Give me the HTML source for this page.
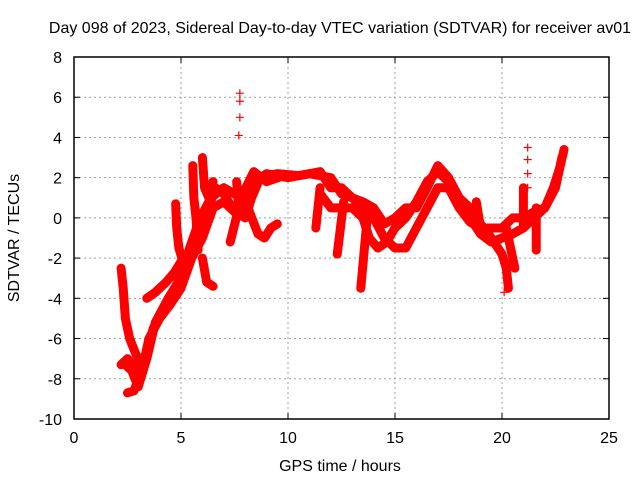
<!DOCTYPE html>
<html><head><meta charset="utf-8"><style>
body{margin:0;background:#fff}
svg{display:block;font-family:"Liberation Sans",sans-serif}
</style></head><body>
<svg id="c" width="640" height="480">
<text x="340" y="33" text-anchor="middle" font-size="16">Day 098 of 2023, Sidereal Day-to-day VTEC variation (SDTVAR) for receiver av01</text>
<text x="340" y="471" text-anchor="middle" font-size="16">GPS time / hours</text>
<text transform="translate(19,238) rotate(-90)" text-anchor="middle" font-size="16">SDTVAR / TECUs</text>
<g id="grid"></g><g id="marks"></g><g id="axes"></g>
</svg>
<script>
const xTicks=[0,5,10,15,20,25];
const yTicks=[-10,-8,-6,-4,-2,0,2,4,6,8];
const trackMain=[[2.5,-8.7],[2.8,-8.6],[3.2,-7.5],[3.5,-6],[4,-5],[4.5,-4.3],[5,-3.5],[5.5,-2],[6,-1],[6.5,0.5],[7,0.8],[7.5,0.3],[8,0.5],[8.5,1.8],[9,2.2],[10,2],[11,2.2],[12,2],[12.5,1.2],[13,1],[14,0],[14.5,-1],[15,-1.5],[15.5,-1.5],[16,-0.5],[16.5,0.5],[17,1.5],[17.5,1.5],[18,0.5],[18.5,-0.2],[19,-0.5],[19.5,-0.5],[20,-0.5],[20.5,0],[21,0],[21.5,0.3],[22,0.5],[22.5,1.5],[22.8,3]];
const trackSecond=[[3,-8],[3.3,-7],[3.7,-5.5],[4.2,-4.5],[4.7,-3.5],[5.2,-2.5],[5.6,-1.5],[6,-0.5],[6.3,0.5],[6.6,1.5],[7,1.2],[7.5,0.3],[8,0],[8.3,1],[8.7,2],[9.5,2.2],[10.5,2.1],[11.5,2.3],[12,1.5],[12.5,1.5],[13,1],[13.5,0.8],[14,0.5],[14.5,-0.3],[15,0],[15.5,0.5],[16,0.5],[16.5,1.5],[17,2.6],[17.5,2],[18,1],[18.5,0.5],[19,-0.3],[19.5,-1],[20,-1.8],[20.2,-2.5],[20.3,-3.5]];
const trackThird=[[11.5,1.2],[12,0.5],[12.5,0.5],[13,0.5],[13.5,0],[13.8,-1],[14.2,-1.5],[14.6,-1.2],[15,-0.5],[15.5,0],[16,0.8],[16.5,1.8],[17,2.3],[17.5,1.8],[18,0.5],[18.5,0],[19,-0.8],[19.5,-1.2],[20,-1],[20.5,-0.8],[21,-0.5],[21.5,0],[22,0.5],[22.4,1.5],[22.7,2.5],[22.9,3.4]];
const trackFourth=[[2.3,-7.2],[2.7,-7.6],[3,-8.4],[3.4,-7],[3.8,-5.2],[4.4,-4],[5,-3],[5.4,-1.5],[5.9,0],[6.4,1],[7,1.5],[7.8,1],[8.4,2.3],[9,1.8],[9.8,2.1]];
const trackShortA=[[2.2,-2.5],[2.3,-3.5],[2.4,-5],[2.6,-6],[2.9,-6.8],[3.2,-7.3]];
const trackShortB=[[2.2,-7.3],[2.5,-7],[2.8,-7.4]];
const trackShortC=[[3.4,-4],[3.8,-3.7],[4.3,-3.2],[4.7,-2.7],[5.1,-2]];
const trackShortD=[[4.75,0.7],[4.8,-0.5],[4.9,-1.5],[5.1,-2.2]];
const trackShortE=[[5.55,2.6],[5.6,1],[5.7,0],[5.8,-1.6]];
const trackShortF=[[6.0,3],[6.1,1.5],[6.3,1],[6.5,1.8]];
const trackShortG=[[6.0,-2],[6.2,-3.2],[6.5,-3.4]];
const trackShortH=[[7.6,1.8],[7.7,0.5],[7.3,-1.2]];
const trackShortI=[[8.2,0.3],[8.6,-0.8],[8.9,-1],[9.2,-0.5],[9.5,-0.3]];
const trackShortJ=[[11.5,1.5],[11.3,-0.5]];
const trackShortK=[[12.6,0.8],[12.3,-1.8]];
const trackShortL=[[13.7,0],[13.4,-3.5]];
const trackShortM=[[18.8,0.8],[19,-0.5]];
const trackShortN=[[20.2,-0.5],[20.4,-1.5],[20.6,-2.5]];
const trackShortO=[[21.0,1.5],[21.0,-0.5]];
const trackShortP=[[21.6,0.5],[21.6,-1.6]];
const outliers=[[7.75,6.2],[7.75,5.8],[7.75,5],[7.7,4.1],[21.2,3.5],[21.2,2.9],[21.2,2.2],[21.2,1.5],[20.1,-3.7]];
const tracks=[trackMain,trackSecond,trackThird,trackFourth,trackShortA,trackShortB,trackShortC,trackShortD,trackShortE,trackShortF,trackShortG,trackShortH,trackShortI,trackShortJ,trackShortK,trackShortL,trackShortM,trackShortN,trackShortO,trackShortP];

const X0=74,X1=609,Y0=419,Y1=57;
const sx=v=>X0+(v-0)/25*(X1-X0);
const sy=v=>Y0-(v+10)/18*(Y0-Y1);
const NS='http://www.w3.org/2000/svg';
function mk(tag,parent,at){const e=document.createElementNS(NS,tag);for(const k in at)e.setAttribute(k,at[k]);parent.appendChild(e);return e;}
const grid=document.getElementById('grid'),axes=document.getElementById('axes'),marks=document.getElementById('marks');
xTicks.forEach(t=>{const x=sx(t);
 if(t>0&&t<25){const l=mk('line',grid,{x1:x,x2:x,y1:Y1,y2:Y0,stroke:'#a0a0a0','stroke-dasharray':'2,3'});
 
 }
 mk('line',axes,{x1:x,x2:x,y1:Y0,y2:Y0-6,stroke:'#000'});mk('line',axes,{x1:x,x2:x,y1:Y1,y2:Y1+6,stroke:'#000'});
 const tx=mk('text',axes,{x:x,y:443,'text-anchor':'middle','font-size':'16'});tx.textContent=t;
 
 });
yTicks.forEach(t=>{const y=sy(t);
 if(t>-10&&t<8){const l=mk('line',grid,{x1:X0,x2:X1,y1:y,y2:y,stroke:'#a0a0a0','stroke-dasharray':'2,3'});
 
 }
 mk('line',axes,{x1:X0,x2:X0+6,y1:y,y2:y,stroke:'#000'});mk('line',axes,{x1:X1,x2:X1-6,y1:y,y2:y,stroke:'#000'});
 const tx=mk('text',axes,{x:62,y:y+6,'text-anchor':'end','font-size':'16'});tx.textContent=t;
 
 });
const fr=mk('rect',axes,{x:X0,y:Y1,width:X1-X0,height:Y0-Y1,fill:'none',stroke:'#000','stroke-width':'1.5'});


function plus(x,y){const p=mk('path',marks,{d:`M${x-4},${y}h8M${x},${y-4}v8`,stroke:'#f00','stroke-width':'1.2'});
 
 }
tracks.forEach(tr=>{
 const pl=mk('polyline',marks,{points:tr.map(p=>sx(p[0])+','+sy(p[1])).join(' '),fill:'none',stroke:'#f00','stroke-width':'9','stroke-linejoin':'round','stroke-linecap':'round'});
 
 
 tr.forEach(p=>plus(sx(p[0]),sy(p[1])));});
outliers.forEach(p=>plus(sx(p[0]),sy(p[1])));
</script>
</body></html>
